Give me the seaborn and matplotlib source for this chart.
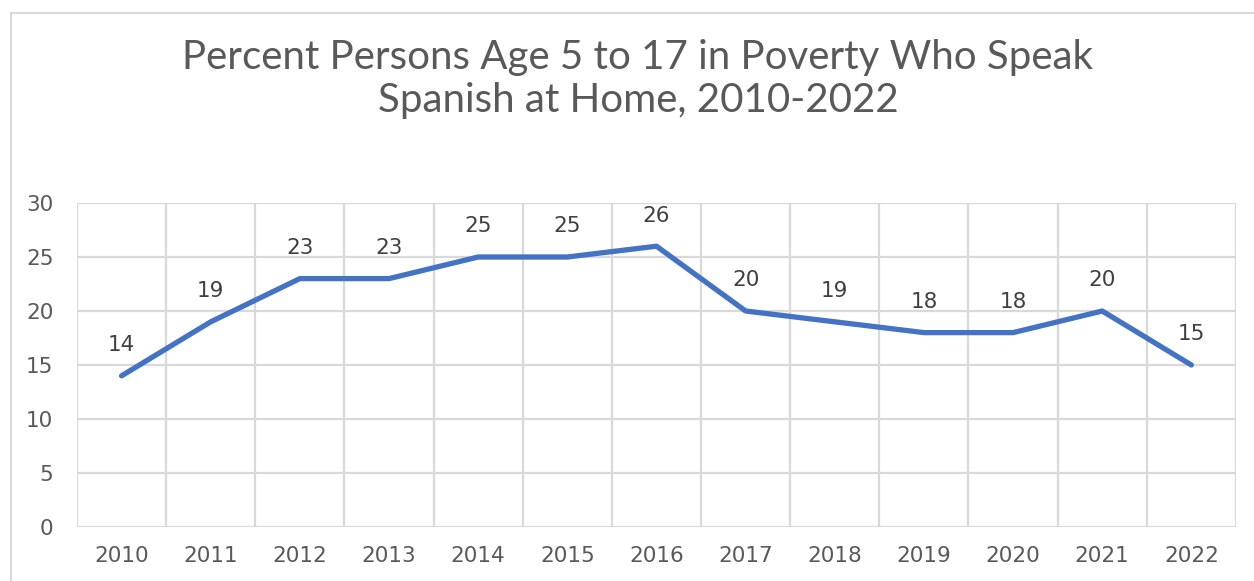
import matplotlib
matplotlib.use("Agg")
import matplotlib.pyplot as plt
from matplotlib.patches import Rectangle
import seaborn as sns
import pandas as pd
import numpy as np

# Chart data
years = ["2010", "2011", "2012", "2013", "2014", "2015", "2016",
         "2017", "2018", "2019", "2020", "2021", "2022"]
percent = [14, 19, 23, 23, 25, 25, 26, 20, 19, 18, 18, 20, 15]
y_ticks = [0, 5, 10, 15, 20, 25, 30]

title = "Percent Persons Age 5 to 17 in Poverty Who Speak\nSpanish at Home, 2010-2022"

sns.set_theme(style="white")
plt.rcParams["font.family"] = ["DejaVu Sans"]

text_color = "#595959"
grid_color = "#D9D9D9"
line_color = "#4472C4"

df = pd.DataFrame({"pos": np.arange(len(years)), "year": years, "value": percent})

fig = plt.figure(figsize=(12.54, 5.81), dpi=100)
ax = fig.add_axes([0.0614, 0.0929, 0.9242, 0.5577])

# Outer chart border
fig.patches.append(Rectangle((11 / 1254, -0.1), 1.2, 1 - 13 / 581 + 0.1,
                             transform=fig.transFigure, fill=False,
                             edgecolor=grid_color, linewidth=1.5, zorder=0))

sns.lineplot(data=df, x="pos", y="value", ax=ax, color=line_color,
             linewidth=3.8, solid_capstyle="round", solid_joinstyle="round",
             zorder=3)

ax.set_xlim(-0.5, len(years) - 0.5)
ax.set_ylim(0, 30)
ax.set_yticks(y_ticks)
ax.set_yticklabels([str(t) for t in y_ticks])
ax.set_xticks(df["pos"])
ax.set_xticklabels(years)
ax.set_xticks(np.arange(-0.5, len(years), 1), minor=True)

ax.grid(False)
ax.yaxis.grid(True, which="major", color=grid_color, linewidth=1.6, zorder=0)
ax.xaxis.grid(True, which="minor", color=grid_color, linewidth=1.6, zorder=0)
ax.tick_params(axis="both", which="both", length=0, colors=text_color,
               labelsize=15.5)
ax.tick_params(axis="y", pad=17)
ax.tick_params(axis="x", pad=14)
ax.set_xlabel("")
ax.set_ylabel("")
for s in ax.spines.values():
    s.set_visible(False)
ax.set_axisbelow(True)

# Data labels above each point
for x, v in zip(df["pos"], df["value"]):
    ax.annotate(str(v), (x, v), xytext=(0, 22), textcoords="offset points",
                ha="center", va="center", fontsize=15.5, color="#404040")

fig.text(638 / 1254, 1 - 79 / 581, title, ha="center", va="center",
         fontsize=29, color=text_color, linespacing=1.2,
         family=["Lato", "DejaVu Sans"], fontweight="normal")

fig.savefig("out.png", dpi=100, facecolor="white")
